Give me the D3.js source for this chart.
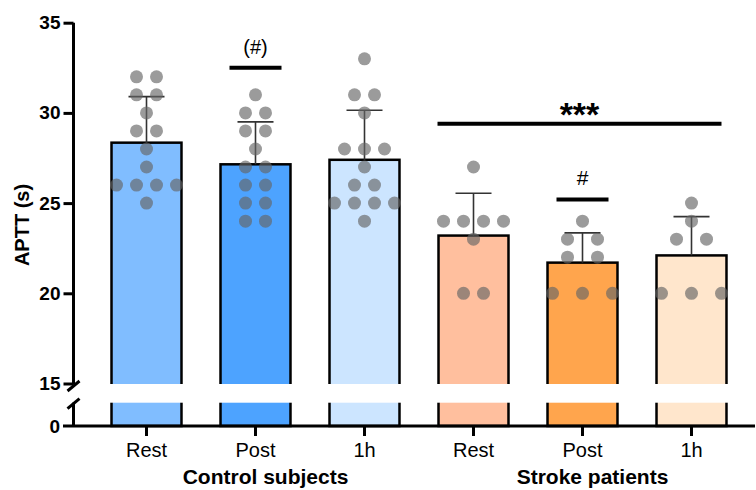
<!DOCTYPE html>
<html lang="en">
<head>
<meta charset="UTF-8">
<title>APTT</title>
<script src="https://cdn.jsdelivr.net/npm/d3@7"></script>
<style>
  body { margin: 0; background: #fff; }
  text { font-family: "Liberation Sans", Arial, sans-serif; }
</style>
</head>
<body>
<svg width="756" height="490"></svg>
<script>
// data
var categories = ['C-Rest', 'C-Post', 'C-1h', 'S-Rest', 'S-Post', 'S-1h'];
var tickLabels = ['Rest', 'Post', '1h', 'Rest', 'Post', '1h'];
var groups = ['Control subjects', 'Stroke patients'];
var means = [28.35, 27.15, 27.4, 23.2, 21.7, 22.1];
var sds = [2.55, 2.35, 2.75, 2.35, 1.65, 2.15];
var barColors = ['#80bdff', '#4da3ff', '#cce5ff', '#ffbf9e', '#ffa54d', '#ffe6cc'];
// individual points: [value, x offset in dot units]
var points = [
  [[32,-1],[32,1],[31,-1],[31,1],[30,0],[29,-1],[29,1],[28,0],[27,0],[26,-3],[26,-1],[26,1],[26,3],[25,0]],
  [[31,0],[30,-1],[30,1],[29,-1],[29,1],[28,0],[27,-1],[27,1],[26,-1],[26,1],[25,-1],[25,1],[24,-1],[24,1]],
  [[33,0],[31,-1],[31,1],[30,0],[28,-2],[28,0],[28,2],[27,0],[26,-1],[26,1],[25,-3],[25,-1],[25,1],[25,3],[24,0]],
  [[27,0],[24,-3],[24,-1],[24,1],[24,3],[23,0],[20,-1],[20,1]],
  [[24,0],[23,-1.5],[23,1.5],[22,-1.5],[22,1.5],[20,-3],[20,0],[20,3]],
  [[25,0],[24,0],[23,-1.5],[23,1.5],[20,-3],[20,0],[20,3]]
];
var yTicks = [15, 20, 25, 30, 35];

var svg = d3.select('svg');

var x = d3.scaleBand().domain(categories).range([92, 746]).paddingInner(0.358).paddingOuter(0.179);
var y = d3.scaleLinear().domain([15, 35]).range([383.5, 22.7]);
var y0 = 426; // zero baseline
var breakTop = 384, breakBottom = 402.7;
var axisX = 73.5;

// bars
svg.selectAll('rect.bar').data(categories).enter().append('rect')
  .attr('class', 'bar')
  .attr('x', function(d){ return x(d); })
  .attr('y', function(d, i){ return y(means[i]); })
  .attr('width', x.bandwidth())
  .attr('height', function(d, i){ return y0 - y(means[i]); })
  .style('fill', function(d, i){ return barColors[i]; })
  .style('stroke', '#000')
  .style('stroke-width', 2.5);

// error bars
var eb = svg.selectAll('g.err').data(categories).enter().append('g').attr('class', 'err');
eb.append('line')
  .attr('x1', function(d){ return x(d) + x.bandwidth()/2; })
  .attr('x2', function(d){ return x(d) + x.bandwidth()/2; })
  .attr('y1', function(d, i){ return y(means[i]); })
  .attr('y2', function(d, i){ return y(means[i] + sds[i]); });
eb.append('line')
  .attr('x1', function(d){ return x(d) + x.bandwidth()/2 - 18; })
  .attr('x2', function(d){ return x(d) + x.bandwidth()/2 + 18; })
  .attr('y1', function(d, i){ return y(means[i] + sds[i]); })
  .attr('y2', function(d, i){ return y(means[i] + sds[i]); });
eb.selectAll('line').style('stroke', '#333').style('stroke-width', 1.6);

// dots
categories.forEach(function(c, i){
  svg.selectAll('circle.p' + i).data(points[i]).enter().append('circle')
    .attr('class', 'p' + i)
    .attr('cx', function(d){ return x(c) + x.bandwidth()/2 + d[1]*10; })
    .attr('cy', function(d){ return y(d[0]); })
    .attr('r', 6.5)
    .style('fill', '#666')
    .style('opacity', 0.65);
});

// axis break gap
svg.append('rect')
  .attr('x', axisX + 3).attr('y', breakTop)
  .attr('width', 756 - axisX).attr('height', breakBottom - breakTop)
  .style('fill', '#fff');

// y axis (upper segment)
var yAxis = svg.append('g').attr('transform', 'translate(' + axisX + ',0)')
  .call(d3.axisLeft(y).tickValues(yTicks).tickSize(10).tickSizeOuter(0).tickPadding(3));
yAxis.select('.domain').attr('d', 'M0,' + y(35) + 'V' + breakTop);
yAxis.selectAll('.tick line').style('stroke-width', 3);
yAxis.selectAll('.tick text').style('font-size', '19px').style('font-weight', 'bold').style('fill', '#000');
yAxis.select('.domain').style('stroke-width', 3);

// lower segment and zero
svg.append('line').attr('x1', axisX).attr('x2', axisX).attr('y1', breakBottom).attr('y2', y0)
  .style('stroke', '#000').style('stroke-width', 3);
svg.append('text').attr('x', 60).attr('y', y0).attr('dy', '0.35em')
  .attr('text-anchor', 'end').style('font-size', '19px').style('font-weight', 'bold').text('0');

// break slashes
[breakTop + 2, breakBottom + 1].forEach(function(by){
  svg.append('line')
    .attr('x1', axisX - 6).attr('y1', by + 5)
    .attr('x2', axisX + 6).attr('y2', by - 5)
    .style('stroke', '#000').style('stroke-width', 3);
});

// x axis
var xAxis = svg.append('g').attr('transform', 'translate(0,' + y0 + ')')
  .call(d3.axisBottom(x).tickSize(10).tickSizeOuter(0).tickPadding(7)
    .tickFormat(function(d, i){ return tickLabels[i]; }));
xAxis.select('.domain').attr('d', 'M63,0H755').style('stroke-width', 3);
xAxis.selectAll('.tick line').style('stroke-width', 3);
xAxis.selectAll('.tick text').style('font-size', '20px').style('fill', '#000');

// group labels
svg.selectAll('text.grp').data(groups).enter().append('text')
  .attr('class', 'grp')
  .attr('x', function(d, i){ return x(categories[i*3 + 1]) + x.bandwidth()/2 + 10; })
  .attr('y', 484)
  .attr('text-anchor', 'middle')
  .style('font-size', '21px').style('font-weight', 'bold')
  .text(function(d){ return d; });

// y label
svg.append('text')
  .attr('transform', 'translate(29,225) rotate(-90)')
  .attr('text-anchor', 'middle')
  .style('font-size', '20px').style('font-weight', 'bold')
  .text('APTT (s)');

// significance marks
function sig(x1, x2, ly, label, ty, size, bold){
  svg.append('line').attr('x1', x1).attr('x2', x2).attr('y1', ly).attr('y2', ly)
    .style('stroke', '#000').style('stroke-width', 4);
  svg.append('text').attr('x', (x1 + x2)/2).attr('y', ty)
    .attr('text-anchor', 'middle')
    .style('font-size', size).style('font-weight', bold ? 'bold' : 'normal')
    .text(label);
}
var cx = function(i){ return x(categories[i]) + x.bandwidth()/2; };
sig(cx(1) - 26, cx(1) + 26, y(32.5), '(#)', 54, '20px', false);
sig(x(categories[3]) - 1, x(categories[5]) + x.bandwidth() - 5, y(29.4), '***', 126, '34px', true);
sig(cx(4) - 26, cx(4) + 26, y(25.2), '#', 185, '21px', false);
</script>
</body>
</html>
